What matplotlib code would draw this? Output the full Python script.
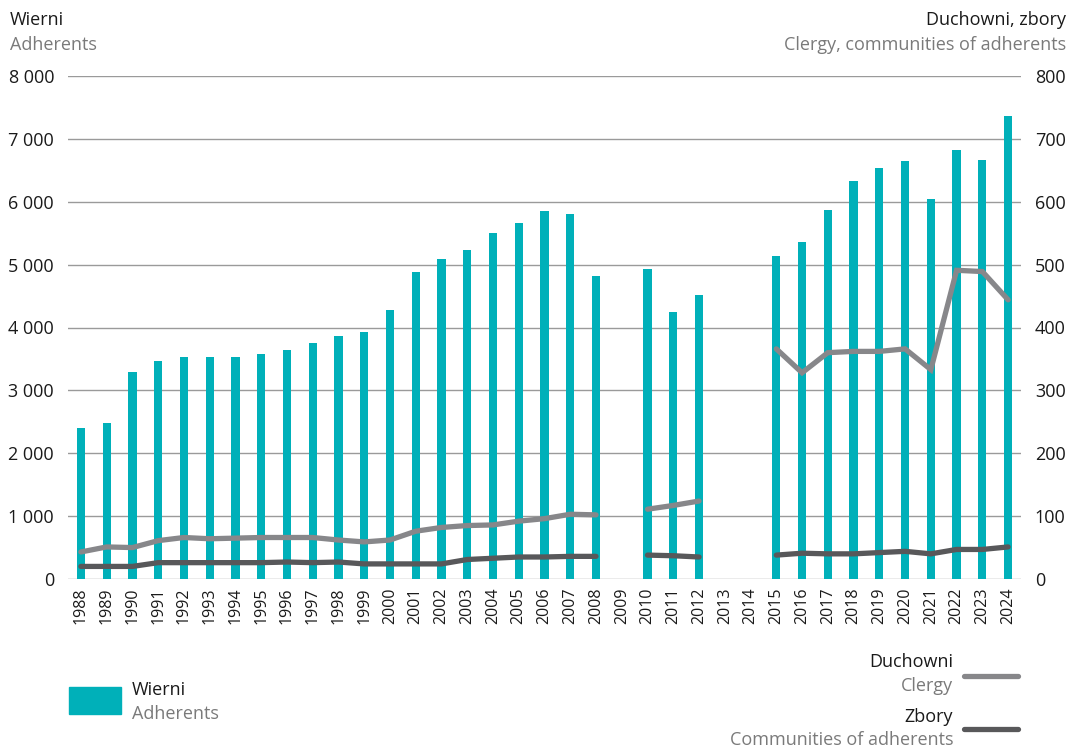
import numpy as np
import matplotlib.pyplot as plt
from matplotlib.lines import Line2D
from matplotlib.patches import Rectangle

plt.rcParams["font.family"] = ["Open Sans", "DejaVu Sans"]

years = list(range(1988, 2025))
nan = np.nan

# Wierni / Adherents (left axis)
adherents = [2400, 2480, 3290, 3466, 3530, 3530, 3530, 3577, 3640, 3752,
             3863, 3927, 4277, 4881, 5087, 5230, 5500, 5660, 5850, 5803,
             4817, nan, 4928, 4245, 4515, nan, nan, 5135, 5358, 5866,
             6327, 6534, 6645, 6041, 6820, 6661, 7361]

# Duchowni / Clergy (right axis)
clergy = [43, 51, 50, 61, 66, 64, 65, 66, 66, 66,
          62, 59, 62, 76, 82, 85, 86, 92, 96, 103,
          102, nan, 111, 117, 124, nan, nan, 366, 328, 360,
          362, 362, 366, 333, 491, 489, 444]

# Zbory / Communities of adherents (right axis)
communities = [20, 20, 20, 26, 26, 26, 26, 26, 27, 26,
               27, 24, 24, 24, 24, 31, 33, 35, 35, 36,
               36, nan, 38, 37, 35, nan, nan, 38, 41, 40,
               40, 42, 44, 40, 47, 47, 51]

left_ticks = [0, 1000, 2000, 3000, 4000, 5000, 6000, 7000, 8000]
right_ticks = [0, 100, 200, 300, 400, 500, 600, 700, 800]

TEAL = "#00b0b9"
CLERGY_C = "#87878a"
COMM_C = "#58585a"
GRID_C = "#9a9a9a"
TXT = "#1a1a1a"
SUB = "#7a7a7a"


def fmt(v):
    return f"{v:,}".replace(",", " ")


fig = plt.figure(figsize=(10.71, 7.48), dpi=100)
ax = fig.add_axes([68 / 1071, 1 - 579 / 748, (1021 - 68) / 1071, (579 - 76) / 748])
ax2 = ax.twinx()

ax.bar(years, adherents, width=0.32, color=TEAL, zorder=2)
ax.set_xlim(1987.5, 2024.5)
ax.set_ylim(0, 8000)
ax.set_yticks(left_ticks)
ax.set_yticklabels([fmt(v) for v in left_ticks], fontsize=13, color=TXT)
ax.yaxis.grid(True, color=GRID_C, linewidth=1.0, zorder=0)
ax.set_axisbelow(True)
ax.set_xticks(years)
ax.set_xticklabels([str(y) for y in years], rotation=90, fontsize=11.5, color=TXT)
ax.tick_params(axis="both", length=0, pad=6)
ax.tick_params(axis="y", pad=10)

ax2.plot(years, clergy, color=CLERGY_C, linewidth=3.8, solid_capstyle="round",
         solid_joinstyle="miter", zorder=3)
ax2.plot(years, communities, color=COMM_C, linewidth=3.8, solid_capstyle="round",
         solid_joinstyle="miter", zorder=3)
ax2.set_ylim(0, 800)
ax2.set_yticks(right_ticks)
ax2.set_yticklabels([str(v) for v in right_ticks], fontsize=13, color=TXT)
ax2.tick_params(axis="y", length=0, pad=10)

for a in (ax, ax2):
    for s in a.spines.values():
        s.set_visible(False)

# axis titles
fig.text(10 / 1071, 1 - 20 / 748, "Wierni", fontsize=13, color=TXT, va="center")
fig.text(10 / 1071, 1 - 45 / 748, "Adherents", fontsize=13, color=SUB, va="center")
fig.text(1066 / 1071, 1 - 20 / 748, "Duchowni, zbory", fontsize=13, color=TXT,
         va="center", ha="right")
fig.text(1066 / 1071, 1 - 45 / 748, "Clergy, communities of adherents", fontsize=13,
         color=SUB, va="center", ha="right")

# legends
leg_font = ["Liberation Sans Narrow", "Open Sans", "DejaVu Sans"]
fig.patches.append(Rectangle((69 / 1071, 1 - 714 / 748), 52 / 1071, 27 / 748,
                             transform=fig.transFigure, color=TEAL))
fig.text(132 / 1071, 1 - 690 / 748, "Wierni", fontsize=13, color=TXT, va="center",
         family=leg_font)
fig.text(132 / 1071, 1 - 714 / 748, "Adherents", fontsize=13, color=SUB, va="center",
         family=leg_font)

fig.text(953 / 1071, 1 - 662 / 748, "Duchowni", fontsize=13, color=TXT, va="center",
         ha="right", family=leg_font)
fig.text(953 / 1071, 1 - 686 / 748, "Clergy", fontsize=13, color=SUB, va="center",
         ha="right", family=leg_font)
fig.text(953 / 1071, 1 - 717 / 748, "Zbory", fontsize=13, color=TXT, va="center",
         ha="right", family=leg_font)
fig.text(953 / 1071, 1 - 740 / 748, "Communities of adherents", fontsize=13, color=SUB,
         va="center", ha="right", family=leg_font)
fig.lines.append(Line2D([964 / 1071, 1018 / 1071], [1 - 676 / 748, 1 - 676 / 748],
                        transform=fig.transFigure, color=CLERGY_C, linewidth=3.8,
                        solid_capstyle="round"))
fig.lines.append(Line2D([964 / 1071, 1018 / 1071], [1 - 729 / 748, 1 - 729 / 748],
                        transform=fig.transFigure, color=COMM_C, linewidth=3.8,
                        solid_capstyle="round"))

fig.savefig("out.png", dpi=100)
